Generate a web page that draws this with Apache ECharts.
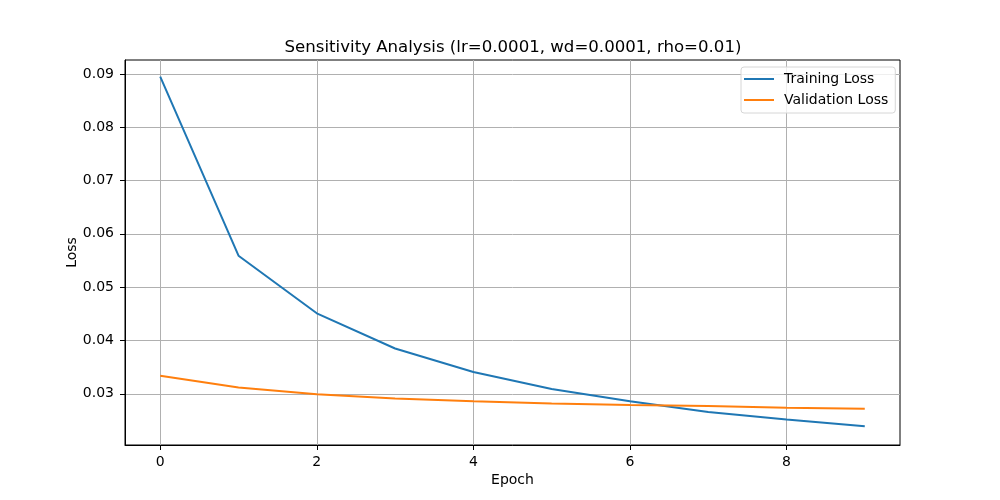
<!DOCTYPE html>
<html>
<head>
<meta charset="utf-8">
<script src="https://cdn.jsdelivr.net/npm/echarts@6/dist/echarts.min.js"></script>
<style>
  html, body { margin: 0; padding: 0; background: #fff; }
  #chart { width: 1000px; height: 500px; }
</style>
</head>
<body>
<div id="chart"></div>
<script>
// values
const epochs = [0, 1, 2, 3, 4, 5, 6, 7, 8, 9];
const trainLoss = [0.0895, 0.0559, 0.0451, 0.0385, 0.0341, 0.0309, 0.0286, 0.0266, 0.0252, 0.0239];
const valLoss = [0.0334, 0.0312, 0.0299, 0.0291, 0.0286, 0.0282, 0.0279, 0.0277, 0.0274, 0.0272];
const xTicks = [0, 2, 4, 6, 8];
const yTicks = [0.03, 0.04, 0.05, 0.06, 0.07, 0.08, 0.09];

const font = 'DejaVu Sans';
const myChart = echarts.init(document.getElementById('chart'), null, {renderer: 'canvas'});

let option = {
    animation: false,
    backgroundColor: '#fff',
    title: {
        text: 'Sensitivity Analysis (lr=0.0001, wd=0.0001, rho=0.01)',
        left: 508,
        textAlign: 'center',
        top: 34,
        textStyle: {fontFamily: font, fontSize: 16.6, fontWeight: 'normal', color: '#000'}
    },
    legend: {
        orient: 'vertical',
        left: 741,
        top: 67,
        icon: 'rect',
        itemWidth: 30,
        itemHeight: 2,
        itemGap: 7,
        padding: [5, 7, 6, 3],
        borderColor: '#d6d6d6',
        borderWidth: 1,
        borderRadius: 3,
        backgroundColor: 'rgba(255,255,255,0.8)',
        textStyle: {fontFamily: font, fontSize: 14, lineHeight: 14, color: '#000', padding: [0, 0, 0, 5]},
        data: ['Training Loss', 'Validation Loss']
    },
    grid: {
        left: 125, right: 100, top: 60, bottom: 55,
        show: true, borderColor: '#000', borderWidth: 1
    },
    xAxis: {
        type: 'value',
        min: -0.45,
        max: 9.45,
        name: 'Epoch',
        nameLocation: 'middle',
        nameGap: 28,
        nameMoveOverlap: false,
        nameTextStyle: {fontFamily: font, fontSize: 14, color: '#000'},
        axisLine: {show: true, onZero: false, lineStyle: {color: '#000', width: 1}},
        axisTick: {show: true, length: 5, customValues: xTicks, lineStyle: {color: '#000'}},
        axisLabel: {customValues: xTicks, fontFamily: font, fontSize: 14, color: '#000', margin: 10,
            formatter: (v) => String(v)},
        splitLine: {show: true, lineStyle: {color: '#b0b0b0', width: 1}}
    },
    yAxis: {
        type: 'value',
        min: 0.0204,
        max: 0.0926,
        name: 'Loss',
        nameLocation: 'middle',
        nameGap: 46,
        nameMoveOverlap: false,
        nameTextStyle: {fontFamily: font, fontSize: 14, color: '#000'},
        axisLine: {show: true, onZero: false, lineStyle: {color: '#000', width: 1}},
        axisTick: {show: true, length: 5, customValues: yTicks, lineStyle: {color: '#000'}},
        axisLabel: {customValues: yTicks, fontFamily: font, fontSize: 14, color: '#000', margin: 11,
            formatter: (v) => v.toFixed(2)},
        splitLine: {show: true, lineStyle: {color: '#b0b0b0', width: 1}}
    },
    series: [
        {
            name: 'Training Loss',
            type: 'line',
            data: epochs.map((e, i) => [e, trainLoss[i]]),
            symbol: 'none',
            color: '#1f77b4',
            lineStyle: {width: 2, color: '#1f77b4'}
        },
        {
            name: 'Validation Loss',
            type: 'line',
            data: epochs.map((e, i) => [e, valLoss[i]]),
            symbol: 'none',
            color: '#ff7f0e',
            lineStyle: {width: 2, color: '#ff7f0e'}
        }
    ]
};
myChart.setOption(option);
</script>
</body>
</html>
